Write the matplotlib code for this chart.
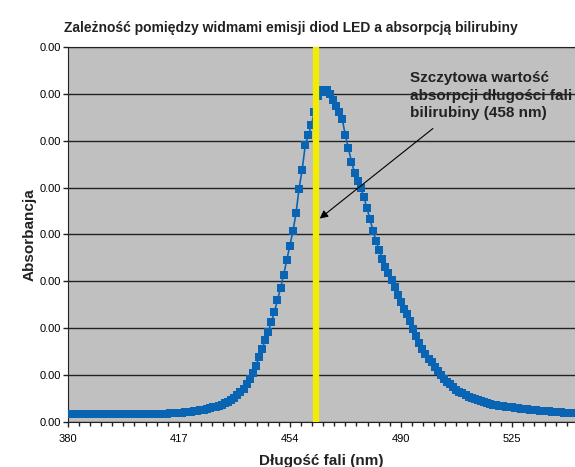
import numpy as np
import matplotlib
matplotlib.use('Agg')
import matplotlib.pyplot as plt
from matplotlib.ticker import MultipleLocator, FormatStrFormatter

plt.rcParams['font.family'] = ['Liberation Sans', 'DejaVu Sans']

# absorbance, one value per wavelength category (in grid steps of 0.0005)
absorbance = np.array([
    0.17, 0.17, 0.17, 0.17, 0.17, 0.17, 0.17, 0.17, 0.17, 0.17,
    0.17, 0.17, 0.17, 0.17, 0.17, 0.17, 0.17, 0.17, 0.17, 0.17,
    0.18, 0.18, 0.18, 0.18, 0.18, 0.18, 0.18, 0.18, 0.18, 0.18,
    0.18, 0.18, 0.18, 0.19, 0.19, 0.19, 0.20, 0.20, 0.21, 0.21,
    0.22, 0.23, 0.24, 0.25, 0.26, 0.27, 0.29, 0.31, 0.33, 0.35,
    0.37, 0.40, 0.43, 0.47, 0.52, 0.58, 0.64, 0.71, 0.80, 0.91,
    1.04, 1.20, 1.38, 1.56, 1.75, 1.92, 2.13, 2.35, 2.60, 2.86,
    3.14, 3.45, 3.76, 4.07, 4.45, 4.98, 5.38, 5.90, 6.12, 6.34,
    6.62, 6.95, 7.08, 7.05, 7.08, 7.00, 6.86, 6.74, 6.62, 6.46,
    6.12, 5.84, 5.55, 5.32, 5.14, 5.00, 4.80, 4.57, 4.32, 4.08,
    3.86, 3.66, 3.48, 3.31, 3.18, 3.02, 2.87, 2.71, 2.55, 2.42,
    2.30, 2.16, 1.98, 1.84, 1.68, 1.55, 1.45, 1.35, 1.27, 1.17,
    1.08, 1.00, 0.92, 0.86, 0.80, 0.74, 0.69, 0.65, 0.61, 0.57,
    0.54, 0.51, 0.48, 0.46, 0.44, 0.42, 0.40, 0.39, 0.37, 0.36,
    0.35, 0.34, 0.33, 0.32, 0.31, 0.30, 0.29, 0.28, 0.28, 0.27,
    0.26, 0.26, 0.25, 0.24, 0.24, 0.23, 0.23, 0.22, 0.22, 0.21,
    0.21, 0.20, 0.20, 0.20, 0.19,
]) * 0.0005
category = np.arange(len(absorbance))

tick_pos = [0, 36, 72, 108, 144]
tick_labels = ['380', '417', '454', '490', '525']
peak_pos = 80.5  # 458 nm category

fig = plt.figure(figsize=(5.75, 4.67), dpi=100)
ax = fig.add_axes([0.118, 0.0964, 0.882, 0.803])
ax.set_facecolor('#c0c0c0')

ax.plot(category, absorbance, color='#0a64b4', lw=1.2, marker='s',
        markersize=5.4, markeredgewidth=0, zorder=3)
ax.axvline(peak_pos, color='#f3ec00', lw=4.5, zorder=4)

ax.set_xlim(0, 164.5)
ax.set_ylim(0, 0.004)
ax.yaxis.set_major_locator(MultipleLocator(0.0005))
ax.yaxis.set_major_formatter(FormatStrFormatter('%.2f'))
ax.grid(axis='y', color='#222222', lw=1)
ax.set_axisbelow(True)

ax.set_xticks(tick_pos)
ax.set_xticklabels(tick_labels)
ax.xaxis.set_minor_locator(MultipleLocator(3.6))
ax.tick_params(axis='both', which='major', length=3.5, width=1, labelsize=8, color='#222222')
ax.tick_params(axis='x', which='minor', length=3, width=1, color='#222222')
ax.tick_params(axis='x', pad=5)
ax.tick_params(axis='y', pad=1.5)

for side in ['left', 'bottom', 'top']:
    ax.spines[side].set_color('#222222')
ax.spines['right'].set_visible(False)

ax.set_xlabel('Długość fali (nm)', fontsize=11, fontweight='bold', color='#222222', labelpad=7)
ax.set_ylabel('Absorbancja', fontsize=11, fontweight='bold', color='#222222', labelpad=2)
fig.text(0.505, 0.94, 'Zależność pomiędzy widmami emisji diod LED a absorpcją bilirubiny',
         ha='center', va='center', fontsize=10, fontweight='bold', color='#222222')

ax.text(111, 0.00348, 'Szczytowa wartość\nabsorpcji długości fali\nbilirubiny (458 nm)',
        fontsize=11, fontweight='bold', color='#222222', va='center', linespacing=1.3)
ax.annotate('', xy=(81.7, 0.00217), xytext=(118.4, 0.00313),
            arrowprops=dict(arrowstyle='-|>', color='black', lw=0.8,
                            shrinkA=0, shrinkB=0, mutation_scale=12))

fig.savefig('out.png', dpi=100)
